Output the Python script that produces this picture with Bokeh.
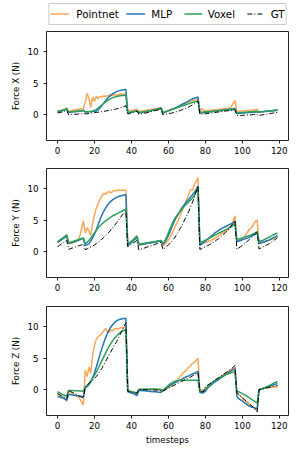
from bokeh.plotting import figure
from bokeh.models import Range1d, FixedTicker
from bokeh.core.properties import value
from bokeh.layouts import column
from bokeh.embed import file_html
from bokeh.resources import INLINE

SERIES = ["Pointnet", "MLP", "Voxel", "GT"]
X_TICKS = [0, 20, 40, 60, 80, 100, 120]
Y_TICKS = [0, 5, 10]
X_LABEL = "timesteps"
Y_LABELS = ["Force X (N)", "Force Y (N)", "Force Z (N)"]

# ---------------- Force X ----------------
fx_pointnet = [0.6, 0.65, 0.7, 0.8, 0.9, 1.05,
               0.5, 0.6, 0.7, 0.8, 0.8, 0.9, 0.85, 0.95, 1.0,
               2.0, 3.4, 2.6, 1.2, 2.8, 2.1, 2.9, 2.6, 2.9, 2.8, 3.0, 2.9, 3.0, 3.1, 3.0, 3.1, 3.2, 3.1, 3.2, 3.3, 3.2, 3.3, 3.3,
               0.6, 0.7, 0.7, 0.8, 0.8, 0.9,
               0.5, 0.6, 0.6, 0.7, 0.7, 0.8, 0.8, 0.9, 0.9, 1.0, 1.0, 1.1, 1.2,
               0.4, 0.5, 0.6, 0.7, 0.8, 0.9, 1.0, 1.1, 1.2, 1.35, 1.5, 1.6, 1.75, 1.9, 2.0, 2.1, 2.2, 2.3, 2.4, 2.5,
               0.5, 1.0, 0.7, 0.6, 0.65, 0.7, 0.7, 0.75, 0.8, 0.8, 0.85, 0.9, 0.9, 0.95, 1.0, 1.0, 1.1, 1.3, 1.8, 2.3,
               0.5, 0.55, 0.6, 0.6, 0.65, 0.65, 0.7, 0.7, 0.75, 0.75, 0.8, 0.9,
               0.4, 0.45, 0.5, 0.5, 0.55, 0.6, 0.6, 0.65, 0.65, 0.7, 0.7]
fx_mlp = [0.5, 0.55, 0.6, 0.7, 0.8, 0.95,
          0.35, 0.4, 0.45, 0.5, 0.5, 0.55, 0.6, 0.65, 0.7,
          0.45, 0.45, 0.48, 0.5, 0.52, 0.55, 0.62, 0.8, 1.1, 1.45, 1.85, 2.25, 2.6, 2.9, 3.15, 3.35, 3.52, 3.66, 3.78, 3.86, 3.92, 3.96, 4.0,
          0.3, 0.35, 0.4, 0.5, 0.55, 0.6,
          0.3, 0.35, 0.4, 0.45, 0.5, 0.55, 0.6, 0.7, 0.75, 0.85, 0.9, 1.0, 1.1,
          0.3, 0.4, 0.5, 0.62, 0.75, 0.88, 1.0, 1.15, 1.3, 1.45, 1.6, 1.75, 1.9, 2.05, 2.2, 2.35, 2.5, 2.62, 2.72, 2.82,
          0.3, 0.32, 0.35, 0.38, 0.42, 0.46, 0.5, 0.54, 0.58, 0.62, 0.66, 0.7, 0.74, 0.78, 0.82, 0.86, 0.9, 0.94, 0.97, 1.0,
          0.2, 0.22, 0.25, 0.28, 0.3, 0.32, 0.35, 0.38, 0.4, 0.42, 0.45, 0.48,
          0.45, 0.5, 0.52, 0.55, 0.58, 0.6, 0.62, 0.65, 0.68, 0.7, 0.75]
fx_voxel = [0.55, 0.6, 0.65, 0.75, 0.85, 1.0,
            0.45, 0.5, 0.5, 0.55, 0.55, 0.6, 0.6, 0.65, 0.7,
            0.5, 0.5, 0.52, 0.55, 0.6, 0.7, 0.85, 1.05, 1.3, 1.55, 1.8, 2.05, 2.25, 2.45, 2.6, 2.72, 2.82, 2.9, 2.97, 3.02, 3.06, 3.1, 3.12,
            0.35, 0.4, 0.45, 0.5, 0.55, 0.6,
            0.35, 0.4, 0.45, 0.5, 0.55, 0.6, 0.65, 0.7, 0.75, 0.8, 0.85, 0.9, 1.0,
            0.35, 0.45, 0.55, 0.65, 0.75, 0.85, 0.95, 1.05, 1.15, 1.25, 1.35, 1.45, 1.55, 1.65, 1.75, 1.85, 1.95, 2.05, 2.12, 2.2,
            0.4, 0.42, 0.45, 0.48, 0.5, 0.52, 0.55, 0.58, 0.6, 0.62, 0.65, 0.68, 0.7, 0.72, 0.75, 0.78, 0.8, 0.82, 0.85, 0.88,
            0.3, 0.32, 0.35, 0.38, 0.4, 0.42, 0.45, 0.48, 0.5, 0.52, 0.55, 0.58,
            0.4, 0.45, 0.5, 0.52, 0.55, 0.6, 0.62, 0.65, 0.7, 0.75, 0.8]
fx_gt = [0.3, 0.35, 0.4, 0.5, 0.6, 0.7,
         0.0, 0.02, 0.05, 0.07, 0.1, 0.12, 0.15, 0.17, 0.2,
         0.15, 0.18, 0.22, 0.26, 0.3, 0.34, 0.38, 0.42, 0.46, 0.5, 0.55, 0.6, 0.65, 0.7, 0.76, 0.82, 0.88, 0.95, 1.02, 1.1, 1.2, 1.3, 1.45,
         0.15, 0.2, 0.3, 0.4, 0.5, 0.6,
         0.1, 0.15, 0.2, 0.25, 0.3, 0.38, 0.45, 0.52, 0.6, 0.68, 0.76, 0.85, 0.95,
         0.0, 0.05, 0.1, 0.15, 0.22, 0.3, 0.38, 0.46, 0.55, 0.65, 0.75, 0.86, 0.98, 1.1, 1.24, 1.4, 1.56, 1.74, 1.94, 2.2,
         0.1, 0.12, 0.15, 0.18, 0.2, 0.24, 0.28, 0.32, 0.36, 0.4, 0.44, 0.48, 0.52, 0.56, 0.6, 0.64, 0.68, 0.72, 0.76, 0.8,
         -0.1, -0.1, -0.1, -0.1, -0.05, -0.05, 0.0, 0.0, 0.0, 0.05, 0.05, 0.1,
         -0.1, -0.05, 0.0, 0.05, 0.1, 0.15, 0.2, 0.25, 0.3, 0.35, 0.4]

# ---------------- Force Y ----------------
fy_pointnet = [1.5, 1.7, 1.9, 2.1, 2.3, 2.6,
               1.3, 1.35, 1.4, 1.5, 1.6, 1.8, 2.4, 3.6, 4.9,
               3.0, 3.8, 3.3, 2.6, 4.5, 5.8, 6.9, 7.6, 8.3, 8.8, 9.2, 9.1, 9.4, 9.5, 9.3, 9.6, 9.7, 9.6, 9.8, 9.7, 9.7, 9.7, 9.7,
               1.0, 1.3, 1.6, 1.9, 2.2, 2.5,
               1.0, 1.1, 1.15, 1.2, 1.3, 1.35, 1.4, 1.5, 1.55, 1.6, 1.7, 1.75, 1.8,
               1.0, 1.2, 1.5, 1.9, 2.4, 3.0, 3.6, 4.2, 4.8, 5.5, 6.2, 6.9, 7.6, 8.4, 9.1, 9.8, 9.7, 10.6, 11.1, 11.7,
               1.2, 1.3, 1.4, 1.5, 1.6, 1.7, 1.8, 1.95, 2.1, 2.3, 2.5, 2.7, 2.9, 3.1, 3.3, 3.5, 3.8, 4.2, 4.9, 5.7,
               1.7, 1.8, 1.9, 2.1, 2.4, 2.8, 3.2, 3.6, 3.8, 4.3, 4.8, 5.0,
               1.3, 1.4, 1.5, 1.6, 1.7, 1.8, 1.9, 2.0, 2.1, 2.3, 2.5]
fy_mlp = [1.5, 1.7, 1.9, 2.1, 2.3, 2.5,
          1.3, 1.4, 1.5, 1.6, 1.7, 1.8, 1.9, 2.0, 2.1,
          1.0, 1.1, 1.3, 1.7, 2.2, 2.8, 3.5, 4.3, 5.1, 5.8, 6.4, 6.9, 7.35, 7.7, 8.0, 8.25, 8.45, 8.6, 8.72, 8.82, 8.9, 8.97, 9.02,
          1.0, 1.25, 1.5, 1.75, 2.0, 2.3,
          1.1, 1.15, 1.2, 1.25, 1.3, 1.35, 1.4, 1.45, 1.5, 1.55, 1.6, 1.65, 1.7,
          1.2, 1.5, 2.0, 2.6, 3.3, 4.0, 4.7, 5.3, 5.8, 6.3, 6.8, 7.2, 7.6, 7.95, 8.3, 8.65, 9.0, 9.4, 9.85, 10.4,
          1.0, 1.2, 1.45, 1.7, 1.95, 2.2, 2.45, 2.7, 2.95, 3.15, 3.35, 3.55, 3.7, 3.85, 4.0, 4.15, 4.3, 4.45, 4.6, 4.75,
          1.6, 1.7, 1.8, 1.9, 2.0, 2.1, 2.2, 2.35, 2.5, 2.65, 2.8, 2.95,
          1.3, 1.4, 1.5, 1.6, 1.7, 1.8, 1.95, 2.1, 2.25, 2.4, 2.6]
fy_voxel = [1.6, 1.8, 2.0, 2.2, 2.45, 2.7,
            1.4, 1.5, 1.6, 1.7, 1.8, 1.9, 2.0, 2.1, 2.2,
            1.3, 1.5, 1.8, 2.2, 2.6, 3.0, 3.4, 3.8, 4.1, 4.4, 4.65, 4.9, 5.1, 5.3, 5.5, 5.7, 5.85, 6.0, 6.15, 6.3, 6.45, 6.6, 6.75,
            1.2, 1.45, 1.7, 1.95, 2.2, 2.5,
            1.2, 1.25, 1.3, 1.35, 1.4, 1.45, 1.5, 1.55, 1.6, 1.65, 1.7, 1.75, 1.8,
            1.3, 1.7, 2.3, 3.0, 3.7, 4.4, 5.0, 5.5, 5.9, 6.3, 6.65, 7.0, 7.3, 7.6, 7.9, 8.2, 8.5, 8.9, 9.5, 10.3,
            1.4, 1.55, 1.7, 1.85, 2.0, 2.15, 2.3, 2.45, 2.6, 2.75, 2.9, 3.05, 3.2, 3.35, 3.5, 3.65, 3.8, 3.95, 4.15, 4.4,
            1.9, 2.0, 2.1, 2.2, 2.3, 2.4, 2.5, 2.6, 2.7, 2.85, 3.0, 3.2,
            1.6, 1.7, 1.8, 1.95, 2.1, 2.25, 2.4, 2.55, 2.7, 2.85, 3.0]
fy_gt = [0.8, 1.0, 1.2, 1.4, 1.6, 1.8,
         0.4, 0.5, 0.6, 0.7, 0.8, 0.9, 1.0, 1.1, 1.2,
         0.35, 0.45, 0.6, 0.75, 0.9, 1.1, 1.3, 1.5, 1.75, 2.0, 2.25, 2.55, 2.85, 3.15, 3.5, 3.85, 4.2, 4.6, 5.0, 5.4, 5.8, 6.1, 6.4,
         0.8, 1.0, 1.2, 1.4, 1.6, 1.8,
         0.3, 0.4, 0.5, 0.6, 0.7, 0.8, 0.9, 1.0, 1.1, 1.2, 1.3, 1.4, 1.5,
         0.4, 0.6, 0.8, 1.1, 1.4, 1.7, 2.1, 2.5, 3.0, 3.5, 4.0, 4.6, 5.2, 5.8, 6.4, 7.1, 7.8, 8.6, 9.5, 10.4,
         0.4, 0.5, 0.65, 0.8, 0.95, 1.1, 1.25, 1.45, 1.65, 1.85, 2.05, 2.3, 2.55, 2.8, 3.1, 3.4, 3.7, 4.1, 4.5, 5.0,
         0.4, 0.6, 0.8, 1.0, 1.25, 1.5, 1.75, 2.0, 2.3, 2.6, 2.9, 3.2,
         0.45, 0.6, 0.75, 0.9, 1.05, 1.2, 1.4, 1.6, 1.8, 2.0, 2.25]

# ---------------- Force Z ----------------
fz_pointnet = [-0.6, -0.8, -1.0, -1.2, -1.5, -1.8,
               -0.2, -0.35, -0.5, -0.7, -0.9, -1.1, -1.4, -1.9, -2.4,
               3.1, 2.1, 3.6, 2.6, 5.5, 7.0, 8.0, 8.4, 8.6, 8.9, 9.3, 9.7, 9.2, 9.1, 9.45, 9.3, 9.6, 9.7, 9.6, 9.8, 9.8, 9.85, 9.9,
               -0.1, -0.2, -0.25, -0.35, -0.4, -0.5,
               0.0, 0.05, 0.05, 0.05, 0.1, 0.1, 0.1, 0.05, 0.05, 0.0, 0.0, -0.05, -0.1,
               -0.2, 0.0, 0.2, 0.4, 0.6, 0.8, 1.0, 1.3, 1.65, 2.0, 2.3, 2.7, 2.9, 3.3, 3.6, 3.8, 4.2, 4.3, 4.7, 5.0,
               -0.1, 0.0, -0.1, 0.2, 0.5, 0.8, 1.0, 1.2, 1.4, 1.6, 1.8, 2.0, 2.2, 2.4, 2.6, 2.8, 3.0, 3.2, 3.35, 3.5,
               -0.4, -0.7, -1.0, -1.3, -1.6, -1.85, -2.1, -2.35, -2.6, -2.8, -3.0, -3.2,
               0.1, 0.15, 0.2, 0.25, 0.3, 0.35, 0.4, 0.4, 0.45, 0.45, 0.5]
fz_mlp = [-1.0, -1.1, -1.2, -1.3, -1.45, -1.6,
          -0.7, -0.75, -0.8, -0.85, -0.9, -0.95, -1.0, -1.05, -1.1,
          0.3, 0.5, 0.85, 1.3, 1.9, 2.7, 3.6, 4.6, 5.6, 6.5, 7.4, 8.2, 8.9, 9.5, 9.95, 10.35, 10.65, 10.9, 11.05, 11.15, 11.2, 11.25, 11.3,
          -0.3, -0.4, -0.5, -0.6, -0.75, -0.9,
          -0.1, -0.1, -0.15, -0.15, -0.2, -0.2, -0.25, -0.25, -0.3, -0.3, -0.35, -0.4, -0.4,
          -0.1, 0.1, 0.3, 0.5, 0.7, 0.9, 1.05, 1.2, 1.35, 1.5, 1.65, 1.8, 1.95, 2.1, 2.2, 2.35, 2.5, 2.6, 2.75, 2.9,
          -0.4, -0.5, -0.45, -0.2, 0.2, 0.5, 0.75, 1.0, 1.2, 1.4, 1.6, 1.8, 2.0, 2.2, 2.4, 2.6, 2.8, 3.0, 3.15, 3.3,
          -1.0, -1.4, -1.6, -1.8, -2.0, -2.2, -2.45, -2.6, -2.7, -2.8, -2.9, -3.0,
          0.0, 0.1, 0.2, 0.3, 0.4, 0.5, 0.6, 0.7, 0.8, 0.9, 1.0]
fz_voxel = [-0.3, -0.45, -0.6, -0.75, -0.9, -1.0,
            -0.1, -0.1, -0.1, -0.15, -0.15, -0.15, -0.2, -0.2, -0.25,
            0.4, 0.7, 1.0, 1.4, 1.8, 2.3, 2.8, 3.4, 4.0, 4.6, 5.2, 5.8, 6.4, 6.9, 7.4, 7.8, 8.2, 8.5, 8.8, 9.05, 9.25, 9.4, 9.55,
            -0.1, -0.2, -0.3, -0.35, -0.45, -0.5,
            0.1, 0.1, 0.1, 0.1, 0.1, 0.1, 0.1, 0.15, 0.15, 0.15, 0.1, 0.1, 0.05,
            -0.1, 0.2, 0.45, 0.7, 0.95, 1.15, 1.3, 1.4, 1.45, 1.5, 1.5, 1.5, 1.5, 1.5, 1.5, 1.5, 1.5, 1.5, 1.5, 1.5,
            -0.2, -0.3, -0.2, 0.1, 0.4, 0.7, 0.95, 1.2, 1.4, 1.6, 1.8, 1.95, 2.1, 2.25, 2.4, 2.5, 2.6, 2.7, 2.8, 2.9,
            -0.2, -0.3, -0.45, -0.6, -0.75, -0.9, -1.1, -1.3, -1.5, -1.7, -1.9, -2.1,
            0.0, 0.1, 0.2, 0.3, 0.45, 0.6, 0.75, 0.9, 1.05, 1.2, 1.3]
fz_gt = [-0.6, -0.75, -0.9, -1.05, -1.2, -1.4,
         -0.1, -0.25, -0.4, -0.55, -0.7, -0.85, -1.0, -1.15, -1.3,
         0.5, 0.75, 1.0, 1.25, 1.5, 1.8, 2.1, 2.5, 2.9, 3.4, 3.9, 4.45, 5.0, 5.6, 6.1, 6.6, 7.1, 7.6, 8.2, 8.8, 9.4, 10.0, 10.6,
         -0.2, -0.3, -0.35, -0.4, -0.5, -0.55,
         0.05, 0.05, 0.05, 0.05, 0.0, 0.0, 0.0, 0.0, 0.0, -0.05, -0.05, -0.1, -0.1,
         -0.2, -0.05, 0.1, 0.25, 0.4, 0.55, 0.7, 0.85, 1.0, 1.15, 1.3, 1.45, 1.6, 1.75, 1.9, 2.05, 2.2, 2.35, 2.5, 2.7,
         -0.3, -0.3, -0.3, 0.5, 0.7, 0.9, 1.1, 1.3, 1.5, 1.7, 1.9, 2.1, 2.3, 2.5, 2.7, 2.9, 3.1, 3.3, 3.55, 3.9,
         -0.5, -0.75, -1.0, -1.25, -1.5, -1.75, -2.0, -2.25, -2.5, -2.8, -3.1, -3.5,
         0.0, 0.1, 0.15, 0.2, 0.3, 0.35, 0.4, 0.5, 0.55, 0.6, 0.7]

PANELS = [
    {"Pointnet": fx_pointnet, "MLP": fx_mlp, "Voxel": fx_voxel, "GT": fx_gt},
    {"Pointnet": fy_pointnet, "MLP": fy_mlp, "Voxel": fy_voxel, "GT": fy_gt},
    {"Pointnet": fz_pointnet, "MLP": fz_mlp, "Voxel": fz_voxel, "GT": fz_gt},
]

STYLE = {
    "Pointnet": dict(line_color="#ff7f0e", line_alpha=0.7, line_width=1.5),
    "MLP": dict(line_color="#1f77b4", line_width=1.5),
    "Voxel": dict(line_color="#2ca05a", line_width=1.5),
    "GT": dict(line_color="black", line_width=1.0, line_dash="5 2 1 2"),
}

FONT = "DejaVu Sans"
TICK_SIZE = "8.7px"

# ---- legend strip: a 300x28 figure whose data units equal screen pixels (y downwards)
LEG_W, LEG_H = 300, 28
LEG_BOX = (3, 297, 3, 24)              # left, right, top, bottom (px)
LEG_HANDLE_X0 = [5, 99, 171, 249]      # handle start per entry (px)
LEG_HANDLE_X1 = [28, 122, 193, 269]    # handle end per entry (px)
LEG_LABEL_X = [37, 130, 200, 278]      # label start per entry (px)
LEG_MID_Y = 13.5

leg_fig = figure(width=LEG_W, height=LEG_H, x_range=Range1d(0, LEG_W), y_range=Range1d(LEG_H, 0),
                 x_axis_location=None, y_axis_location=None, output_backend="svg",
                 toolbar_location=None, min_border=0)
leg_fig.outline_line_color = None
leg_fig.grid.visible = False
l, r, t, b = LEG_BOX
leg_fig.quad(left=[l], right=[r], top=[t], bottom=[b], fill_color="white",
             line_color="#cccccc", line_width=1)
for k, name in enumerate(SERIES):
    leg_fig.segment(x0=[LEG_HANDLE_X0[k]], y0=[LEG_MID_Y], x1=[LEG_HANDLE_X1[k]], y1=[LEG_MID_Y],
                    **STYLE[name])
leg_fig.text(x=LEG_LABEL_X, y=[LEG_MID_Y] * len(SERIES), text=SERIES,
             text_font=value(FONT), text_font_size=value("10.3px"),
             text_baseline="middle", text_align="left", text_color="black")

# (top, bottom) borders so frames land at y 31..140, 168..277, 306..415
borders = [(3, 20), (8, 20), (9, 35)]
figs = [leg_fig]
for i, data in enumerate(PANELS):
    top, bottom = borders[i]
    p = figure(frame_width=242, frame_height=109,
               x_range=Range1d(-5.95, 124.95), y_range=Range1d(-4.05, 13.15),
               output_backend="svg", toolbar_location=None,
               min_border_left=46, min_border_right=12,
               min_border_top=top, min_border_bottom=bottom)
    p.grid.visible = False
    p.outline_line_color = "#222222"
    p.outline_line_width = 1
    for name in SERIES:
        ys = data[name]
        p.line(list(range(len(ys))), ys, **STYLE[name])
    p.xaxis.ticker = FixedTicker(ticks=X_TICKS)
    p.yaxis.ticker = FixedTicker(ticks=Y_TICKS)
    for ax in (p.xaxis[0], p.yaxis[0]):
        ax.axis_line_color = None
        ax.major_tick_out = 3
        ax.major_tick_in = 0
        ax.major_tick_line_color = "#222222"
        ax.minor_tick_line_color = None
        ax.major_label_text_font = FONT
        ax.major_label_text_font_size = TICK_SIZE
        ax.major_label_text_color = "black"
        ax.axis_label_text_font = FONT
        ax.axis_label_text_font_size = TICK_SIZE
        ax.axis_label_text_font_style = "normal"
        ax.axis_label_text_color = "black"
    p.xaxis.major_label_standoff = 3
    p.yaxis.major_label_standoff = 5
    p.yaxis.axis_label = Y_LABELS[i]
    p.yaxis.axis_label_standoff = 3
    if i == 2:
        p.xaxis.axis_label = X_LABEL
        p.xaxis.axis_label_standoff = 3
    figs.append(p)

layout = column(*figs, spacing=0)
open("out.html", "w").write(file_html(layout, INLINE))
